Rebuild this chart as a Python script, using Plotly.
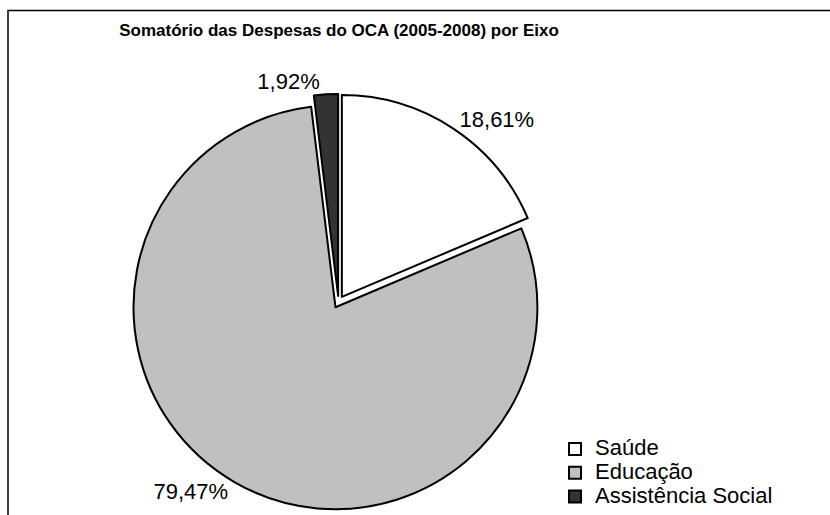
import plotly.graph_objects as go

categories = ["Saúde", "Educação", "Assistência Social"]
values = [18.61, 79.47, 1.92]
colors = ["#ffffff", "#c0c0c0", "#333333"]
title_text = "Somatório das Despesas do OCA (2005-2008) por Eixo"

W, H = 830, 540
FONT = "Liberation Sans, Arial, sans-serif"

# legend text shown larger than the legend line spacing, as in the reference
legend_labels = ['<span style="font-size:22px">' + c + "</span>" for c in categories]

fig = go.Figure(
    go.Pie(
        labels=legend_labels,
        values=values,
        sort=False,
        direction="clockwise",
        rotation=0,
        pull=[0.03, 0.03, 0.03],
        marker=dict(colors=colors, line=dict(color="#000000", width=2)),
        texttemplate="%{percent:.2%}",
        textposition="outside",
        outsidetextfont=dict(family=FONT, size=22, color="#000000"),
        domain=dict(x=[130.5 / W, 546.5 / W], y=[(H - 510) / H, (H - 94) / H]),
        hoverinfo="percent",
    )
)

fig.update_layout(
    width=W,
    height=H,
    margin=dict(l=0, r=0, t=0, b=0),
    paper_bgcolor="#ffffff",
    plot_bgcolor="#ffffff",
    separators=",.",
    font=dict(family=FONT, color="#000000"),
    title=dict(
        text="<b>" + title_text + "</b>",
        font=dict(family=FONT, size=17, color="#000000"),
        x=339 / W, xref="container", xanchor="center",
        y=(H - 30) / H, yref="container", yanchor="middle",
    ),
    showlegend=True,
    legend=dict(
        font=dict(family=FONT, size=16, color="#000000"),
        x=555 / W, xanchor="left",
        y=(H - 432) / H, yanchor="top",
        bgcolor="rgba(0,0,0,0)",
        traceorder="normal",
    ),
    shapes=[
        dict(type="rect", xref="paper", yref="paper",
             x0=8 / W, x1=1.05, y0=-0.05, y1=(H - 10.5) / H,
             line=dict(color="#000000", width=1.5), fillcolor="rgba(0,0,0,0)", layer="below"),
    ],
)

fig.write_html(
    "out.html",
    config={"displayModeBar": False},
    post_script="document.body.style.margin='0';document.body.style.overflow='hidden';document.documentElement.style.overflow='hidden';",
)
